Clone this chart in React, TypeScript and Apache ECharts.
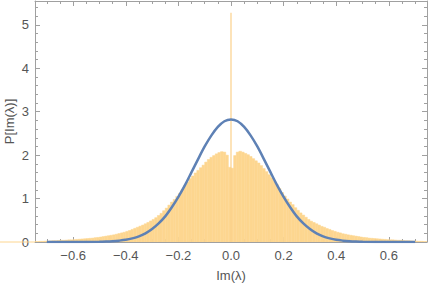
import React, { useEffect, useRef } from "react";
import * as echarts from "echarts";

// Histogram: bins of width 0.01 starting at -0.75
const BIN_START = -0.75;
const BIN_WIDTH = 0.01;
// heights of bins from -0.75 to 0.00
const histLeft = [
  0.01, 0.01, 0.015, 0.015, 0.02, 0.02, 0.025, 0.03, 0.03, 0.035,
  0.04, 0.04, 0.045, 0.05, 0.05, 0.055, 0.06, 0.065, 0.07, 0.075,
  0.08, 0.085, 0.09, 0.1, 0.105, 0.115, 0.125, 0.135, 0.145, 0.155,
  0.165, 0.18, 0.195, 0.21, 0.225, 0.245, 0.265, 0.29, 0.315, 0.34,
  0.365, 0.39, 0.42, 0.45, 0.485, 0.52, 0.56, 0.61, 0.66, 0.72,
  0.78, 0.85, 0.92, 0.98, 1.05, 1.12, 1.21, 1.3, 1.38, 1.46,
  1.52, 1.59, 1.65, 1.71, 1.77, 1.84, 1.9, 1.95, 1.99, 2.03,
  2.06, 2.08, 2.07, 2.0, 1.72,
];
// heights of bins from 0.00 to 0.75
const histRight = [
  1.7, 1.99, 2.07, 2.09, 2.07, 2.04, 2.01, 1.97, 1.92, 1.87,
  1.82, 1.76, 1.69, 1.62, 1.55, 1.48, 1.4, 1.32, 1.23, 1.14,
  1.06, 0.99, 0.92, 0.86, 0.79, 0.73, 0.67, 0.62, 0.57, 0.52,
  0.48, 0.45, 0.42, 0.39, 0.36, 0.34, 0.31, 0.29, 0.265, 0.245,
  0.225, 0.21, 0.19, 0.18, 0.165, 0.155, 0.145, 0.135, 0.125, 0.115,
  0.105, 0.1, 0.09, 0.085, 0.08, 0.075, 0.07, 0.065, 0.06, 0.055,
  0.05, 0.05, 0.045, 0.04, 0.04, 0.035, 0.03, 0.03, 0.025, 0.02,
  0.02, 0.015, 0.015, 0.01, 0.01,
];
// spike at zero
const spikeX = [0];
const spikeY = [5.28];

// fitted curve
const curveX = [
  -0.7, -0.6, -0.5, -0.475, -0.45, -0.425, -0.4, -0.375, -0.35, -0.325, -0.3,
  -0.275, -0.25, -0.225, -0.2, -0.175, -0.15, -0.125, -0.1, -0.075, -0.05, -0.025,
  0, 0.025, 0.05, 0.075, 0.1, 0.125, 0.15, 0.175, 0.2, 0.225, 0.25, 0.275, 0.3,
  0.325, 0.35, 0.375, 0.4, 0.425, 0.45, 0.475, 0.5, 0.6, 0.7,
];
const curveY = [
  0, 0.001, 0.005, 0.01, 0.018, 0.031, 0.05, 0.084, 0.13, 0.2, 0.3,
  0.43, 0.59, 0.8, 1.04, 1.31, 1.61, 1.91, 2.2, 2.45, 2.65, 2.78,
  2.82, 2.78, 2.65, 2.45, 2.2, 1.91, 1.61, 1.31, 1.04, 0.8, 0.59, 0.43, 0.3,
  0.2, 0.13, 0.084, 0.05, 0.031, 0.018, 0.01, 0.005, 0.001, 0,
];

const xMajorTicks = [-0.6, -0.4, -0.2, 0, 0.2, 0.4, 0.6];
const xMinorTicks = [
  -0.7, -0.65, -0.55, -0.5, -0.45, -0.35, -0.3, -0.25, -0.15, -0.1, -0.05,
  0.05, 0.1, 0.15, 0.25, 0.3, 0.35, 0.45, 0.5, 0.55, 0.65, 0.7,
];
const yMajorTicks = [0, 1, 2, 3, 4, 5];
const yMinorTicks = [
  0.2, 0.4, 0.6, 0.8, 1.2, 1.4, 1.6, 1.8, 2.2, 2.4, 2.6, 2.8,
  3.2, 3.4, 3.6, 3.8, 4.2, 4.4, 4.6, 4.8, 5.2, 5.4,
];

const X_MIN = -0.745;
const X_MAX = 0.745;
const Y_MAX = 5.55;

const FRAME = "#a0a0a0";
const TEXT = "#555555";
const BAR = "#fdd690";
const LINE = "#5e81b5";
const FONT = "Liberation Sans";

export default function App() {
  const ref = useRef<HTMLDivElement>(null);
  useEffect(() => {
    const chart = echarts.init(ref.current!, undefined, { renderer: "svg" });

    const histData: number[][] = [];
    const all = histLeft.concat(histRight);
    all.forEach((h, i) => {
      const x0 = +(BIN_START + i * BIN_WIDTH).toFixed(4);
      const x1 = +(BIN_START + (i + 1) * BIN_WIDTH).toFixed(4);
      histData.push([x0, x1, h]);
    });
    const spikeData = spikeX.map((x, i) => [x, spikeY[i]]);
    const curveData = curveX.map((x, i) => [x, curveY[i]]);

    const mkX = (pos: string, values: number[], len: number, labels: boolean, line: boolean) => ({
      type: "value",
      position: pos,
      min: X_MIN,
      max: X_MAX,
      axisLine: { show: line, onZero: false, lineStyle: { color: FRAME, width: 1 } },
      axisTick: { show: true, inside: true, length: len, customValues: values, lineStyle: { color: FRAME } },
      axisLabel: labels
        ? {
            show: true,
            customValues: values,
            margin: 7,
            color: TEXT,
            fontSize: 13,
            fontFamily: FONT,
            formatter: (v: number) => v.toFixed(1).replace("-", "\u2212"),
          }
        : { show: false },
      splitLine: { show: false },
    });
    const mkY = (pos: string, values: number[], len: number, labels: boolean, line: boolean) => ({
      type: "value",
      position: pos,
      min: 0,
      max: Y_MAX,
      axisLine: { show: line, onZero: false, lineStyle: { color: FRAME, width: 1 } },
      axisTick: { show: true, inside: true, length: len, customValues: values, lineStyle: { color: FRAME } },
      axisLabel: labels
        ? {
            show: true,
            customValues: values,
            margin: 6,
            color: TEXT,
            fontSize: 13,
            fontFamily: FONT,
          }
        : { show: false },
      splitLine: { show: false },
    });

    const xBottom: any = mkX("bottom", xMajorTicks, 5, true, true);
    xBottom.name = "Im(λ)";
    xBottom.nameLocation = "middle";
    xBottom.nameGap = 27;
    xBottom.nameMoveOverlap = false;
    xBottom.nameTextStyle = { color: TEXT, fontSize: 13, fontFamily: FONT };
    const yLeft: any = mkY("left", yMajorTicks, 5, true, true);
    yLeft.name = "P[Im(λ)]";
    yLeft.nameLocation = "middle";
    yLeft.nameGap = 19;
    yLeft.nameMoveOverlap = false;
    yLeft.nameTextStyle = { color: TEXT, fontSize: 13, fontFamily: FONT };

    chart.setOption({
      animation: false,
      backgroundColor: "#ffffff",
      grid: { left: 35, right: 1, top: 1, bottom: 44, containLabel: false, outerBoundsMode: "none" },
      xAxis: [
        xBottom,
        mkX("bottom", xMinorTicks, 3, false, false),
        mkX("top", xMajorTicks, 5, false, true),
        mkX("top", xMinorTicks, 3, false, false),
      ],
      yAxis: [
        yLeft,
        mkY("left", yMinorTicks, 3, false, false),
        mkY("right", yMajorTicks, 5, false, true),
        mkY("right", yMinorTicks, 3, false, false),
      ],
      graphic: [
        {
          type: "line",
          shape: { x1: 0, y1: 242, x2: 35, y2: 242 },
          style: { stroke: BAR, lineWidth: 1 },
          z: 1,
        },
      ],
      series: [
        {
          type: "custom",
          xAxisIndex: 0,
          yAxisIndex: 0,
          clip: true,
          encode: { x: [0, 1], y: 2 },
          data: histData,
          renderItem: (params: any, api: any) => {
            const p0 = api.coord([api.value(0), api.value(2)]);
            const p1 = api.coord([api.value(1), 0]);
            return {
              type: "rect",
              shape: { x: p0[0], y: p0[1], width: p1[0] - p0[0], height: p1[1] - p0[1] },
              style: { fill: BAR, stroke: BAR, lineWidth: 0.5 },
            };
          },
          z: 2,
        },
        {
          type: "custom",
          xAxisIndex: 0,
          yAxisIndex: 0,
          clip: true,
          encode: { x: 0, y: 1 },
          data: spikeData,
          renderItem: (params: any, api: any) => {
            const p0 = api.coord([api.value(0), api.value(1)]);
            const p1 = api.coord([api.value(0), 0]);
            return {
              type: "rect",
              shape: { x: p0[0] - 0.6, y: p0[1], width: 1.2, height: p1[1] - p0[1] },
              style: { fill: "#fbd08a" },
            };
          },
          z: 3,
        },
        {
          type: "line",
          xAxisIndex: 0,
          yAxisIndex: 0,
          data: curveData,
          smooth: 0.3,
          showSymbol: false,
          symbol: "none",
          clip: true,
          lineStyle: { color: LINE, width: 2.5 },
          z: 4,
        },
      ],
    });
    return () => chart.dispose();
  }, []);
  return (
    <div
      ref={ref}
      style={{ position: "fixed", left: 0, top: 0, width: 428, height: 286, background: "#fff" }}
    />
  );
}
